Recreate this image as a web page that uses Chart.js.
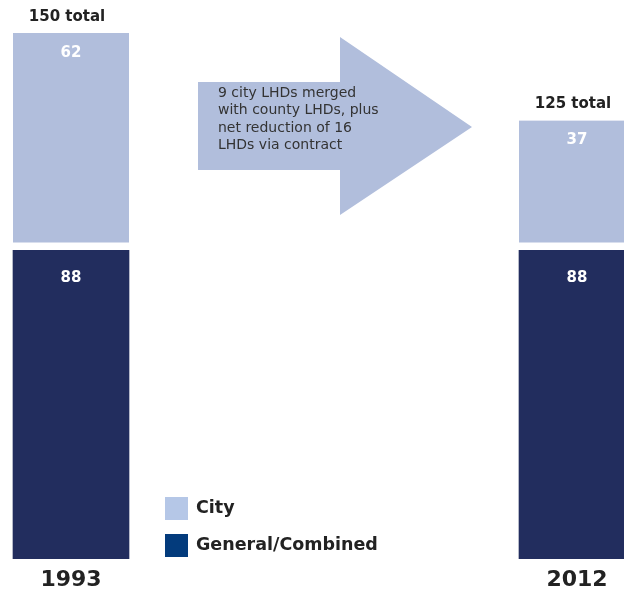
<!DOCTYPE html>
<html>
<head>
<meta charset="utf-8">
<script src="https://cdn.jsdelivr.net/npm/chart.js@4/dist/chart.umd.min.js"></script>
<style>
  html, body { margin: 0; padding: 0; background: #fff; }
  #wrap { width: 624px; height: 592px; position: relative; }
</style>
</head>
<body>
<div id="wrap"><canvas id="myChart"></canvas></div>
<script>
// LHD counts by type
const years = ['1993', '2012'];
const generalCounts = [88, 88];
const cityCounts = [62, 37];
const seriesNames = ['General/Combined', 'City'];
const arrowText = ['9 city LHDs merged', 'with county LHDs, plus', 'net reduction of 16', 'LHDs via contract'];

const cityColor = '#b1bedc';
const generalColor = '#222d5e';
const legendColors = ['#033b7c', '#b5c7e7'];
const FONT = '"DejaVu Sans", sans-serif';

// Totals above the bars, counts inside, the arrow and the legend
const extras = {
    id: 'extras',
    afterDatasetsDraw(chart) {
        const ctx = chart.ctx;
        const genMeta = chart.getDatasetMeta(0);
        const cityMeta = chart.getDatasetMeta(1);
        ctx.save();
        ctx.textAlign = 'center';
        ctx.textBaseline = 'middle';

        years.forEach((y, i) => {
            const gen = genMeta.data[i];
            const city = cityMeta.data[i];
            ctx.fillStyle = '#ffffff';
            ctx.font = 'bold 15px ' + FONT;
            ctx.fillText(String(cityCounts[i]), city.x, city.y + 20);
            ctx.fillText(String(generalCounts[i]), gen.x, gen.y + 28);
            ctx.fillStyle = '#222222';
            ctx.font = 'bold 15px ' + FONT;
            ctx.fillText((cityCounts[i] + generalCounts[i]) + ' total', city.x - 4, city.y - 16);
        });

        // arrow between the two years
        ctx.fillStyle = cityColor;
        ctx.beginPath();
        ctx.moveTo(198, 82);
        ctx.lineTo(340, 82);
        ctx.lineTo(340, 37);
        ctx.lineTo(472, 127);
        ctx.lineTo(340, 215);
        ctx.lineTo(340, 170);
        ctx.lineTo(198, 170);
        ctx.closePath();
        ctx.fill();

        ctx.fillStyle = '#333333';
        ctx.textAlign = 'left';
        ctx.font = '14px ' + FONT;
        arrowText.forEach((line, k) => {
            ctx.fillText(line, 218, 93 + k * 17.5);
        });

        // legend
        const order = [1, 0];
        order.forEach((d, k) => {
            const top = 497 + k * 37;
            ctx.fillStyle = legendColors[d];
            ctx.fillRect(165, top, 23, 23);
            ctx.fillStyle = '#222222';
            ctx.font = 'bold 17.5px ' + FONT;
            ctx.fillText(seriesNames[d], 196, top + 11);
        });
        ctx.restore();
    }
};

const ctx = document.getElementById('myChart').getContext('2d');
const chart = new Chart(ctx, {
    type: 'bar',
    data: {
        labels: years,
        datasets: [
            {
                label: seriesNames[0],
                data: generalCounts,
                backgroundColor: generalColor,
                borderWidth: 0,
                clip: false
            },
            {
                label: seriesNames[1],
                data: cityCounts,
                backgroundColor: cityColor,
                borderColor: '#ffffff',
                borderWidth: { top: 0, left: 0, right: 0, bottom: 8 },
                borderSkipped: false,
                clip: false
            }
        ]
    },
    options: {
        responsive: true,
        maintainAspectRatio: false,
        animation: false,
        layout: { padding: { top: 33, left: 71, right: 47, bottom: -1 } },
        datasets: { bar: { barThickness: 116 } },
        plugins: {
            legend: { display: false },
            tooltip: { enabled: false }
        },
        scales: {
            x: {
                stacked: true,
                offset: false,
                grid: { display: false },
                border: { display: false },
                ticks: {
                    padding: 0,
                    color: '#222222',
                    font: { family: FONT, size: 22, weight: 'bold' }
                }
            },
            y: {
                stacked: true,
                display: false,
                min: 0,
                max: 150
            }
        }
    },
    plugins: [extras]
});
</script>
</body>
</html>
